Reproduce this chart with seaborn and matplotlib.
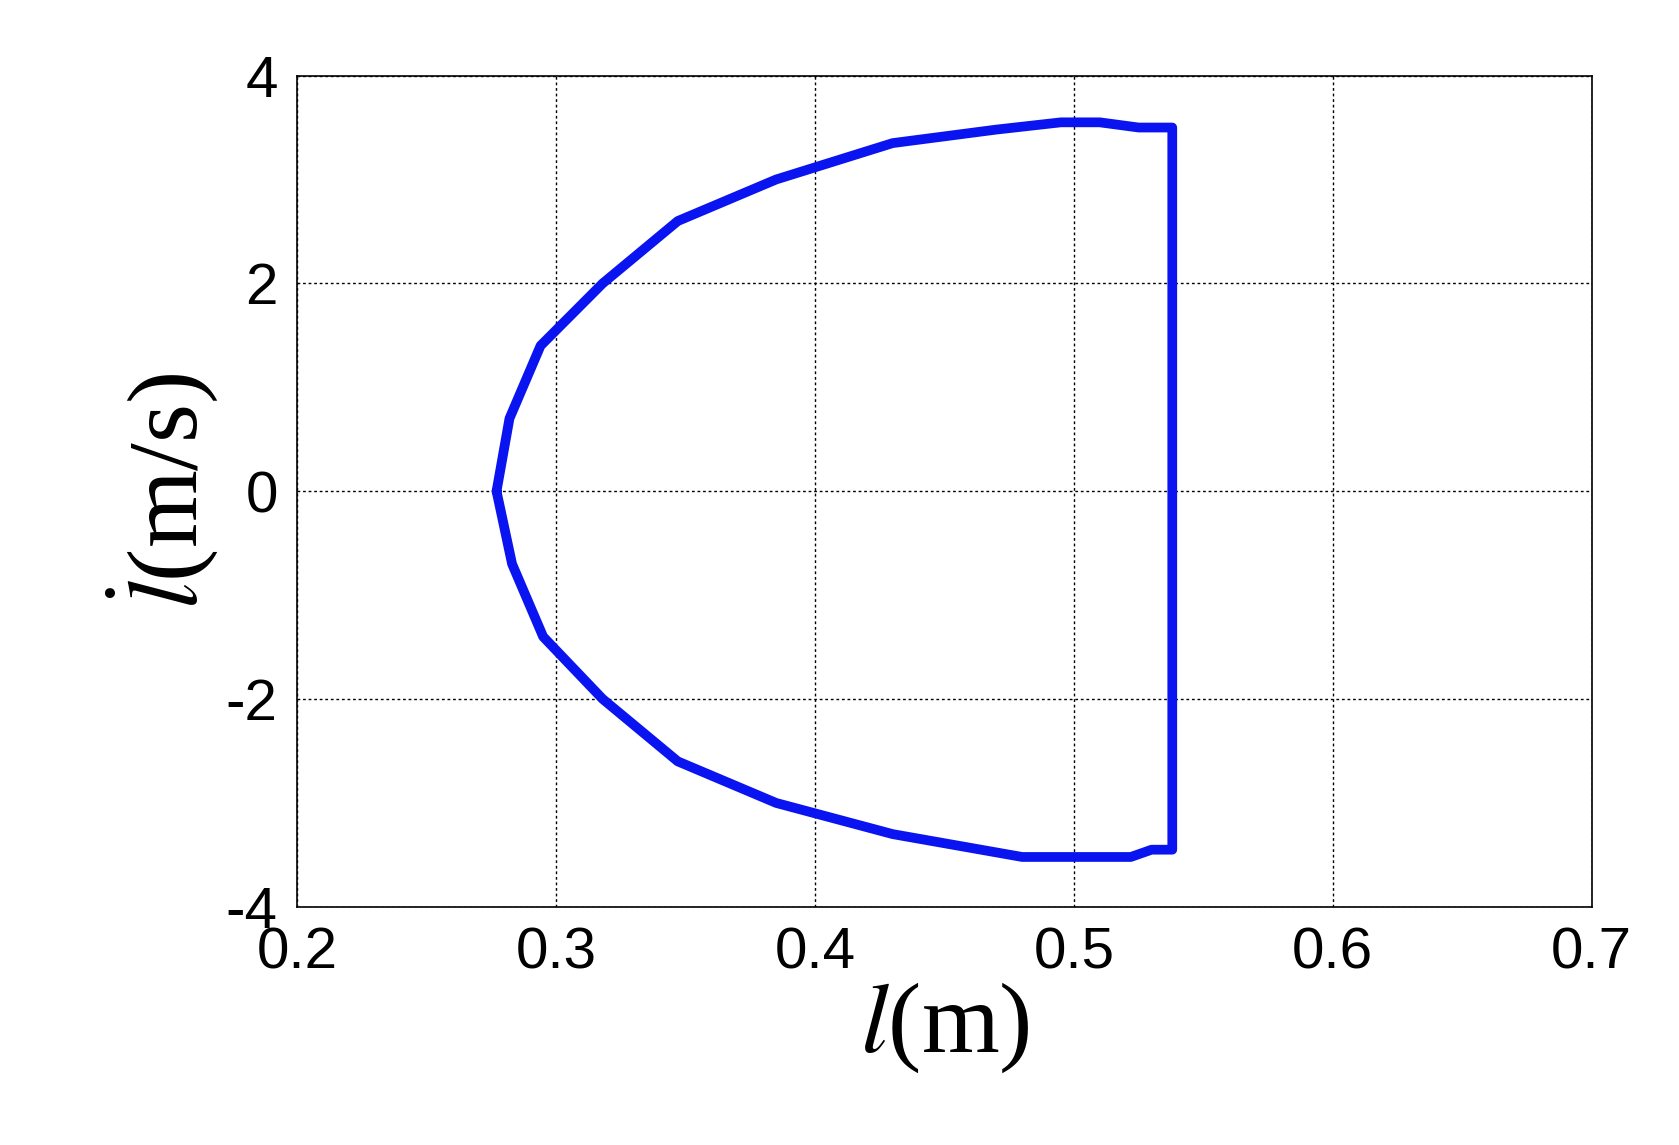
import pandas as pd
import matplotlib.pyplot as plt
import seaborn as sns

# Phase trajectory (upper branch, right edge, lower branch)
l_m = [0.277, 0.282, 0.294, 0.318, 0.347, 0.385, 0.43, 0.47, 0.495, 0.51, 0.525, 0.538,
       0.538, 0.53, 0.522, 0.48, 0.43, 0.385, 0.347, 0.318, 0.295, 0.283, 0.277]
ldot = [0.0, 0.7, 1.4, 2.0, 2.6, 3.0, 3.35, 3.48, 3.55, 3.55, 3.5, 3.5,
        -3.45, -3.45, -3.52, -3.52, -3.3, -3.0, -2.6, -2.0, -1.4, -0.7, 0.0]
x_ticks = [0.2, 0.3, 0.4, 0.5, 0.6, 0.7]
y_ticks = [-4, -2, 0, 2, 4]

df = pd.DataFrame({'l': l_m, 'ldot': ldot})

sns.set_style('white')
plt.rcParams['font.family'] = ['Liberation Sans', 'DejaVu Sans']
plt.rcParams['mathtext.fontset'] = 'stix'
plt.rcParams['text.color'] = 'black'
plt.rcParams['axes.labelcolor'] = 'black'
plt.rcParams['xtick.color'] = 'black'
plt.rcParams['ytick.color'] = 'black'

fig = plt.figure(figsize=(16.79, 11.45), dpi=100)
ax = fig.add_axes([0.177, 0.208, 0.771, 0.726])

sns.lineplot(data=df, x='l', y='ldot', sort=False, estimator=None,
             color='#0a14f0', linewidth=7, ax=ax)

ax.set_xlim(0.2, 0.7)
ax.set_ylim(-4, 4)
ax.set_xticks(x_ticks)
ax.set_yticks(y_ticks)
ax.set_xticklabels([f'{v:.1f}' for v in x_ticks])
ax.set_yticklabels([str(v) for v in y_ticks])
ax.tick_params(labelsize=42, length=0, pad=14)
ax.grid(True, color='black', linestyle=(0, (2, 2)), linewidth=1)
for s in ax.spines.values():
    s.set_color('black')
    s.set_linewidth(1.2)

ax.set_xlabel(r'$l$(m)', fontsize=72, family='Liberation Serif', labelpad=0)
ax.set_ylabel(r'$\dot{l}$(m/s)', fontsize=72, family='Liberation Serif', labelpad=4)

plt.savefig('out.png')
